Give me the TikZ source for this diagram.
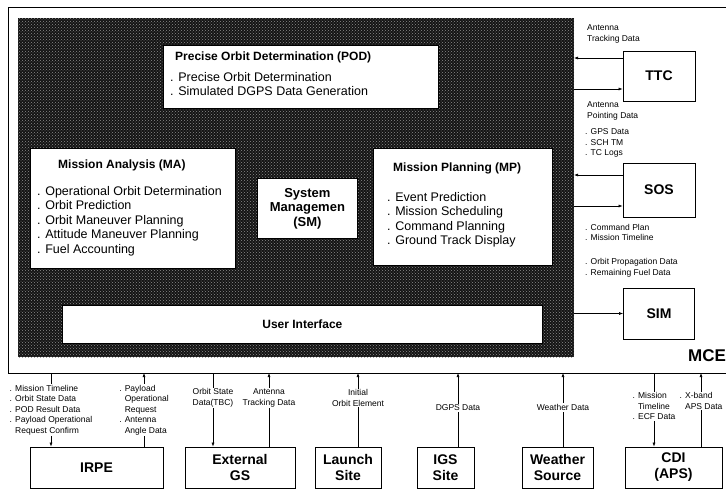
\documentclass[tikz,border=0pt]{standalone}
\usepackage{fontspec}
\setmainfont{Liberation Sans}
\usetikzlibrary{arrows.meta,patterns}

\tikzset{
  box/.style={draw, fill=white, line width=0.8pt, inner sep=0pt, anchor=north west},
  unit/.style={draw, fill=white, line width=0.8pt, inner sep=0pt, align=center,
    font=\fontsize{14}{16}\selectfont\bfseries},
  head/.style={anchor=west, inner sep=0pt, font=\fontsize{12}{14}\selectfont\bfseries},
  list/.style={anchor=north west, inner sep=0pt, align=left,
    font=\fontsize{12.5}{14.5}\selectfont},
  lbl/.style={inner sep=1pt, align=left, font=\fontsize{8.5}{10.5}\selectfont},
  flow/.style={-{Latex[length=4pt,width=3pt]}, line width=0.6pt},
}

\begin{document}
\begin{tikzpicture}[x=1pt,y=-1pt]
  \useasboundingbox (0,0) rectangle (726,491);

  % MCE frame and shaded core
  \draw [line width=0.8pt] (8,7) rectangle (740,373);
  \coordinate (mcebase) at (8,373);
  \fill [black!92] (18,18) rectangle (574,357);
  \fill [pattern=crosshatch dots, pattern color=black!45] (18,18) rectangle (574,357);
  \coordinate (coreedge) at (574,18);
  \node [anchor=west, inner sep=0pt, font=\fontsize{17}{17}\selectfont\bfseries] (mcetag) at (688,356) {MCE};

  % POD
  \node [box, minimum width=275pt, minimum height=63pt] (pod) at (163,45) {};
  \node [head] (podhead) at (175,57) {Precise Orbit Determination (POD)};
  \node [list] (podlist) at (170,72) {. Precise Orbit Determination\\. Simulated DGPS Data Generation};

  % MA
  \node [box, minimum width=205pt, minimum height=120pt] (ma) at (30,148) {};
  \node [head] (mahead) at (58,165) {Mission Analysis (MA)};
  \node [list] (malist) at (37,186) {. Operational Orbit Determination\\. Orbit Prediction\\. Orbit Maneuver Planning\\. Attitude Maneuver Planning\\. Fuel Accounting};

  % SM
  \node [box, minimum width=100pt, minimum height=60pt] (sm) at (257,178) {};
  \node [align=center, inner sep=0pt, font=\fontsize{13}{14.5}\selectfont\bfseries] (smtext) at (sm.center) {System\\Managemen\\(SM)};

  % MP
  \node [box, minimum width=179pt, minimum height=117pt] (mp) at (373,148) {};
  \node [head] (mphead) at (393,168) {Mission Planning (MP)};
  \node [list] (mplist) at (387,192) {. Event Prediction\\. Mission Scheduling\\. Command Planning\\. Ground Track Display};

  % user interface
  \node [box, minimum width=480pt, minimum height=38pt] (ui) at (62,305) {};
  \node [inner sep=0pt, font=\fontsize{12}{14}\selectfont\bfseries] (uitext) at (ui.center) {User Interface};

  % right side units
  \node [unit, minimum width=72pt, minimum height=50pt] (ttc) at (659,76) {TTC};
  \node [unit, minimum width=72pt, minimum height=54pt] (sos) at (659,190) {SOS};
  \node [unit, minimum width=71pt, minimum height=51pt] (sim) at (659,313.5) {SIM};

  \coordinate (ttcout) at ([yshift=18pt]ttc.west);
  \coordinate (ttcin) at ([yshift=-13pt]ttc.west);
  \coordinate (sosout) at ([yshift=15pt]sos.west);
  \coordinate (sosin) at ([yshift=-16pt]sos.west);
  \draw [flow] (ttcout) -- (ttcout -| coreedge);
  \draw [flow] (ttcin -| coreedge) -- (ttcin);
  \draw [flow] (sosout) -- (sosout -| coreedge);
  \draw [flow] (sosin -| coreedge) -- (sosin);
  \draw [flow] (sim.west -| coreedge) -- (sim.west);

  \node [lbl, anchor=west] (ttcl1) at (586,34) {Antenna\\Tracking Data};
  \node [lbl, anchor=west] (ttcl2) at (586,111) {Antenna\\Pointing Data};
  \node [lbl, anchor=west] (sosl1) at (584,143) {. GPS Data\\. SCH TM\\. TC Logs};
  \node [lbl, anchor=west] (sosl2) at (584,232.5) {. Command Plan\\. Mission Timeline};
  \node [lbl, anchor=west] (siml1) at (584,268) {. Orbit Propagation Data\\. Remaining Fuel Data};

  % external units
  \node [unit, minimum width=133pt, minimum height=41pt] (irpe) at (96.5,467.5) {IRPE};
  \node [unit, minimum width=110pt, minimum height=41pt] (extgs) at (240,467.5) {External\\GS};
  \node [unit, minimum width=66pt, minimum height=41pt] (launch) at (348,467.5) {Launch\\Site};
  \node [unit, minimum width=57pt, minimum height=41pt] (igs) at (445.5,467.5) {IGS\\Site};
  \node [unit, minimum width=71pt, minimum height=41pt] (wx) at (557.5,467.5) {Weather\\Source};
  \node [unit, minimum width=97pt, minimum height=41pt] (cdi) at (673.5,467.5) {CDI\\(APS)};

  \coordinate (irpein) at ([xshift=-45.5pt]irpe.north);
  \coordinate (irpeout) at ([xshift=47.5pt]irpe.north);
  \coordinate (gsin) at ([xshift=-27pt]extgs.north);
  \coordinate (gsout) at ([xshift=29pt]extgs.north);
  \coordinate (launchout) at ([xshift=10pt]launch.north);
  \coordinate (igsout) at ([xshift=12.5pt]igs.north);
  \coordinate (wxout) at ([xshift=5.5pt]wx.north);
  \coordinate (cdiin) at ([xshift=-19.5pt]cdi.north);
  \coordinate (cdiout) at ([xshift=27.5pt]cdi.north);

  \draw [flow] (irpein |- mcebase) -- node [lbl, fill=white, pos=0.5] (irpel1)
    {. Mission Timeline\\. Orbit State Data\\. POD Result Data\\. Payload Operational\\\phantom{. }Request Confirm} (irpein);
  \draw [flow] (irpeout) -- node [lbl, fill=white, pos=0.5] (irpel2)
    {. Payload\\\phantom{. }Operational\\\phantom{. }Request\\. Antenna\\\phantom{. }Angle Data} (irpeout |- mcebase);
  \draw [flow] (gsin |- mcebase) -- node [lbl, fill=white, align=center, pos=0.34] (gsl1)
    {Orbit State\\Data(TBC)} (gsin);
  \draw [flow] (gsout) -- node [lbl, fill=white, align=center, pos=0.66] (gsl2)
    {Antenna\\Tracking Data} (gsout |- mcebase);
  \draw [flow] (launchout) -- node [lbl, fill=white, align=center, pos=0.66] (launchl)
    {Initial\\Orbit Element} (launchout |- mcebase);
  \draw [flow] (igsout) -- node [lbl, fill=white, pos=0.53] (igsl)
    {DGPS Data} (igsout |- mcebase);
  \draw [flow] (wxout) -- node [lbl, fill=white, pos=0.53] (wxl)
    {Weather Data} (wxout |- mcebase);
  \draw [flow] (cdiin |- mcebase) -- node [lbl, fill=white, pos=0.45] (cdil1)
    {. Mission\\\phantom{. }Timeline\\. ECF Data} (cdiin);
  \draw [flow] (cdiout) -- node [lbl, fill=white, pos=0.62] (cdil2)
    {. X-band\\\phantom{. }APS Data} (cdiout |- mcebase);
\end{tikzpicture}
\end{document}
